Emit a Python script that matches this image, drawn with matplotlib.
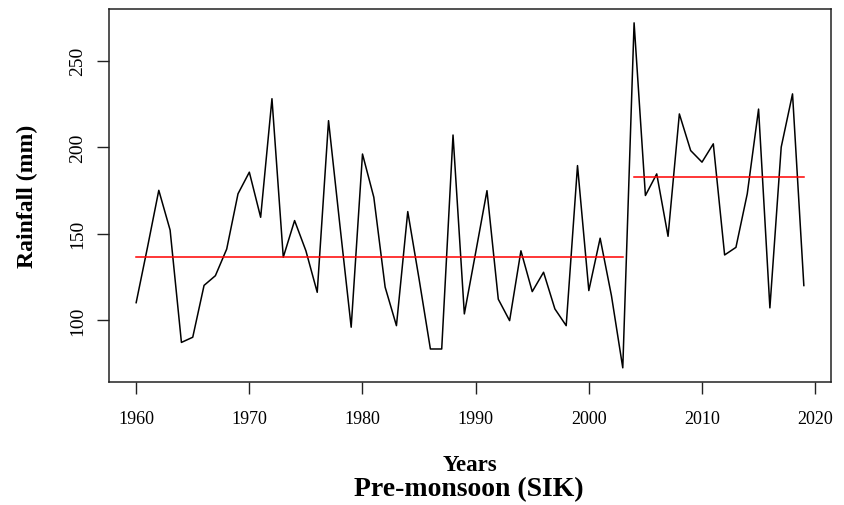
import numpy as np
import matplotlib
matplotlib.use("Agg")
import matplotlib.pyplot as plt

# Pre-monsoon rainfall series, SIK station
years = list(range(1960, 2020))
rainfall = [
    110, 142, 175, 152, 87, 90, 120, 125.6, 141, 173,
    185.5, 159.4, 228, 136.3, 157.5, 140, 116, 215.3, 155, 95.8,
    196, 171, 119, 96.7, 162.7, 123.7, 83.2, 83.2, 207, 103.5,
    139, 174.8, 112, 99.6, 140, 116.4, 127.6, 106.4, 96.7, 189.3,
    117, 147.3, 114, 72.3, 271.9, 172, 184.5, 148.4, 219.2, 198,
    191.3, 201.9, 137.6, 142, 173, 222, 107, 200, 230.8, 119.9,
]
change_year = 2004  # first year of the second regime

xticks = [1960, 1970, 1980, 1990, 2000, 2010, 2020]
yticks = [100, 150, 200, 250]

serif = ["Liberation Serif", "DejaVu Serif"]
plt.rcParams["font.family"] = serif

fig = plt.figure(figsize=(8.45, 5.06), dpi=100)
W, H = 845, 506
ax = fig.add_axes([109 / W, (H - 383) / H, 722 / W, (383 - 9.5) / H])

yrs = np.array(years)
vals = np.array(rainfall)
ax.plot(yrs, vals, color="black", lw=1.1)

# segment means before and after the shift
before = yrs < change_year
after = ~before
ax.plot([yrs[before][0], yrs[before][-1]], [vals[before].mean()] * 2,
        color="red", lw=1.1)
ax.plot([yrs[after][0], yrs[after][-1]], [vals[after].mean()] * 2,
        color="red", lw=1.1)

ax.set_xlim(1957.6, 2021.4)
ax.set_ylim(64.1, 280.2)
ax.set_xticks(xticks)
ax.set_yticks(yticks)
ax.set_xticklabels([str(t) for t in xticks], fontsize=13)
ax.set_yticklabels([str(t) for t in yticks], fontsize=14, rotation=90,
                   va="center")
ax.tick_params(axis="both", direction="out", length=8.6, width=1.0,
               color="#222222")
ax.tick_params(axis="x", pad=11.5)
ax.tick_params(axis="y", pad=8)
for s in ax.spines.values():
    s.set_linewidth(1.1)
    s.set_color("#222222")

fig.text(27 / W, 1 - 196 / H, "Rainfall (mm)", rotation=90, ha="center",
         va="center", fontsize=17, fontweight="bold")
fig.text(470 / W, 1 - 466 / H, "Years", ha="center", va="center",
         fontsize=16.5, fontweight="bold")
fig.text(469 / W, 1 - 490 / H, "Pre-monsoon (SIK)", ha="center",
         va="center", fontsize=20, fontweight="bold")

fig.savefig("out.png", dpi=100)
